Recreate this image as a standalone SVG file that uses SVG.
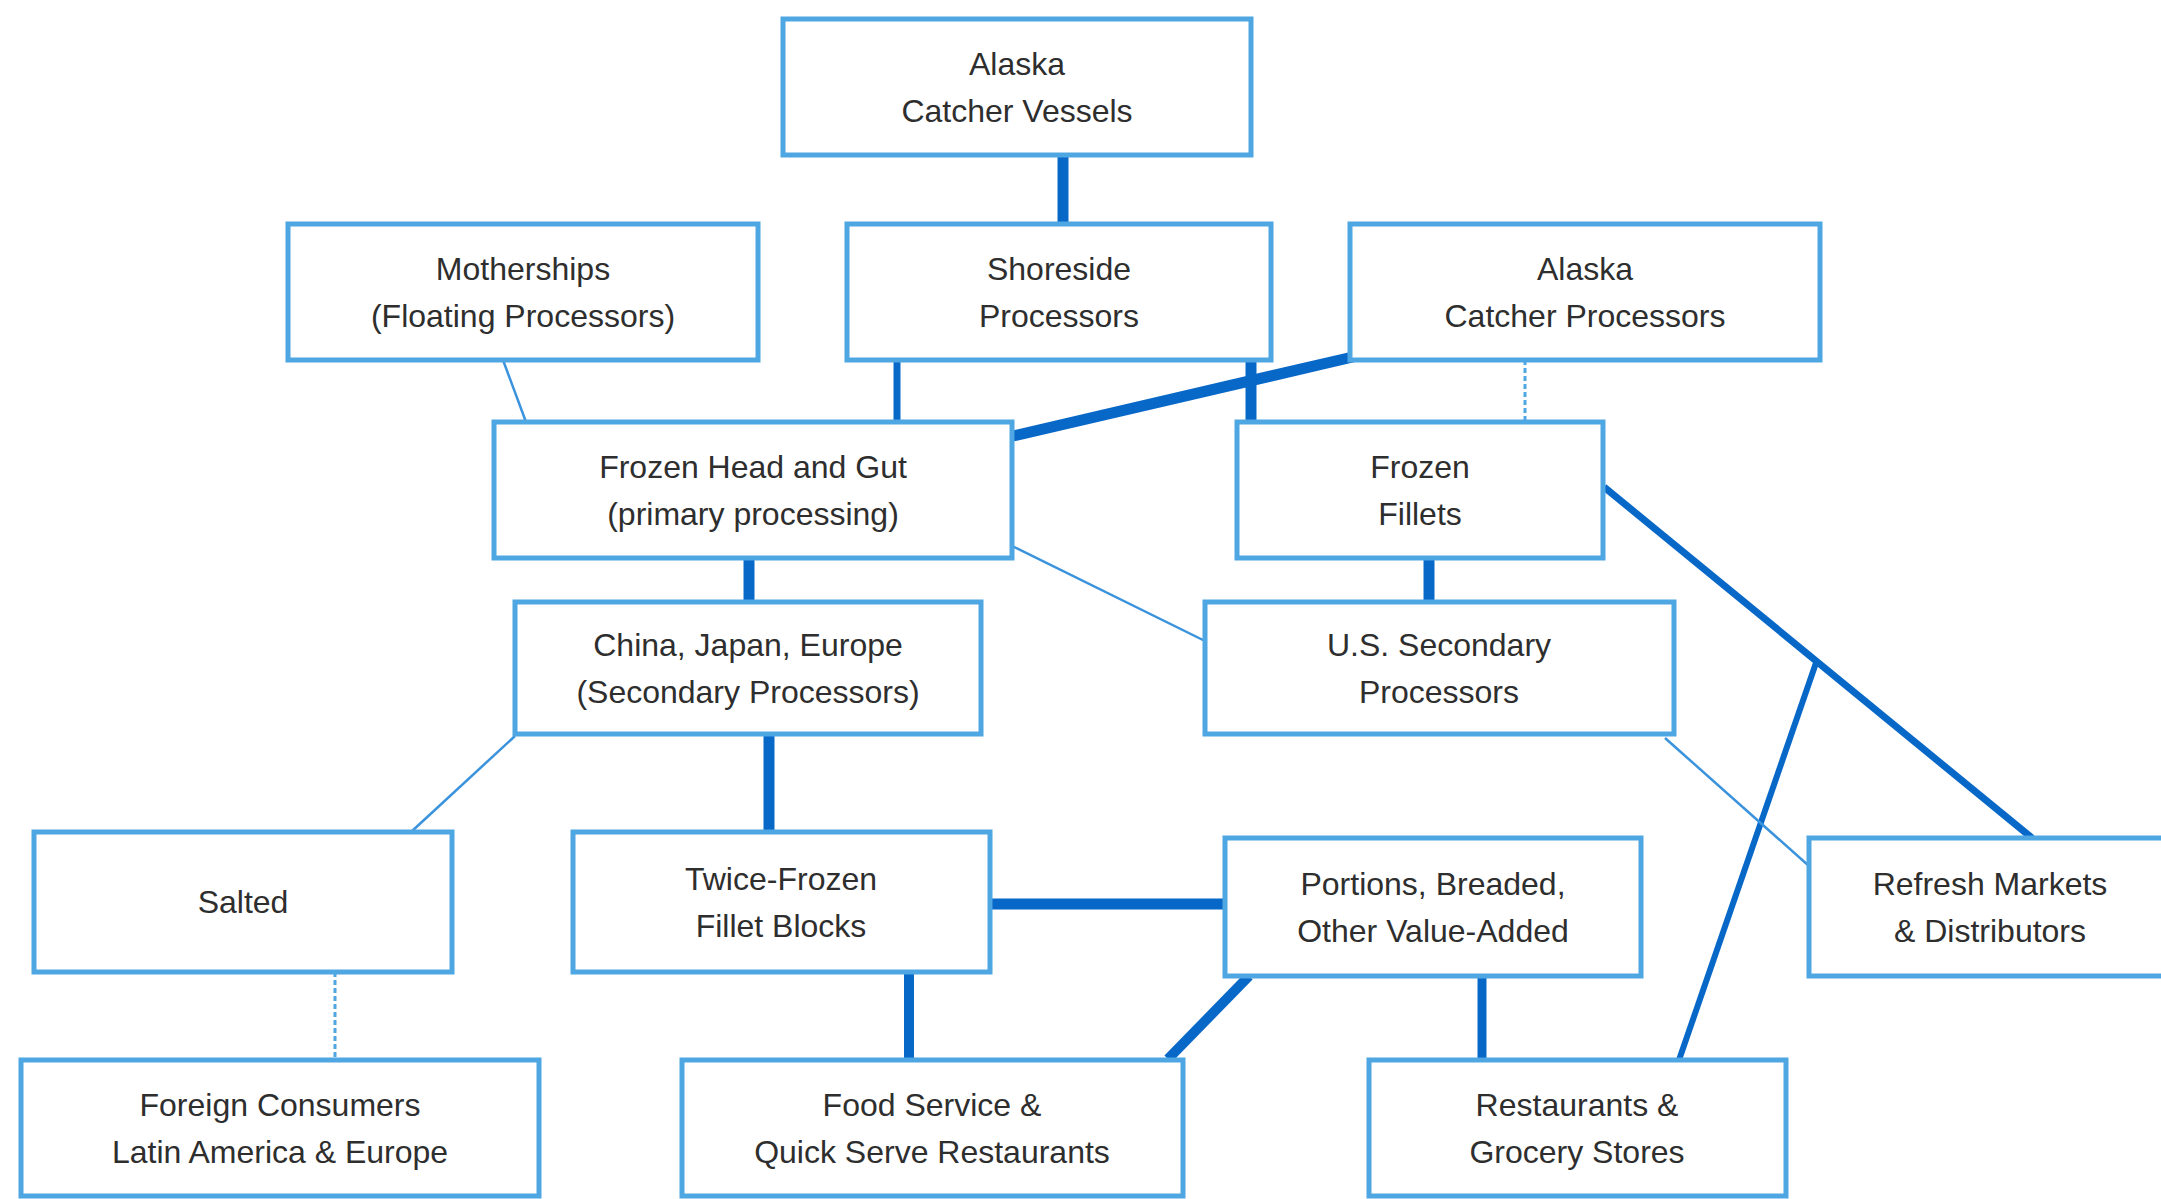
<svg xmlns="http://www.w3.org/2000/svg" width="2161" height="1199" viewBox="0 0 2161 1199">
<style>
.box{fill:#ffffff;stroke:#4ea6e2;stroke-width:5}
.t{font-family:"Liberation Sans",Arial,sans-serif;font-size:32px;fill:#2e2e2e;text-anchor:middle}
.c{stroke:#0868c8;fill:none;stroke-linecap:butt}
.thick{stroke-width:11}
.med{stroke-width:7}
.thin{stroke:#3a93dc;stroke-width:2.5}
.dash{stroke:#4ea6e2;stroke-width:3;stroke-dasharray:5 3}
</style>
<rect width="2161" height="1199" fill="#ffffff"/>
<g id="connectors">
<line class="c thick" x1="1063" y1="155" x2="1063" y2="224"/>
<line class="c thin" x1="503" y1="360" x2="526" y2="422"/>
<line class="c med" x1="897" y1="360" x2="897" y2="422"/>
<line class="c thick" x1="1357" y1="356" x2="1013" y2="436"/>
<line class="c thick" x1="1251" y1="360" x2="1251" y2="422"/>
<line class="c dash" x1="1525" y1="360" x2="1525" y2="422"/>
<line class="c thick" x1="749" y1="558" x2="749" y2="602"/>
<line class="c thin" x1="1012" y1="546" x2="1205" y2="641"/>
<line class="c thick" x1="1429" y1="558" x2="1429" y2="602"/>
<line class="c med" x1="1604" y1="487" x2="2032" y2="838"/>
<line class="c" stroke-width="6" x1="1679" y1="1060" x2="1817" y2="660"/>
<line class="c thin" x1="1665" y1="738" x2="1809" y2="866"/>
<line class="c thin" x1="515" y1="736" x2="411" y2="832"/>
<line class="c thick" x1="769" y1="734" x2="769" y2="832"/>
<line class="c dash" x1="335" y1="972" x2="335" y2="1060"/>
<line class="c thick" x1="990" y1="904" x2="1225" y2="904"/>
<line class="c" stroke-width="10" x1="909" y1="972" x2="909" y2="1060"/>
<line class="c" stroke-width="10" x1="1249" y1="976" x2="1168" y2="1059"/>
<line class="c" stroke-width="9" x1="1482" y1="976" x2="1482" y2="1058"/>
</g>
<g id="alaska-catcher-vessels"><rect class="box" x="783" y="19" width="468" height="136"/><text class="t" x="1017" y="75">Alaska</text><text class="t" x="1017" y="122">Catcher Vessels</text></g>
<g id="motherships"><rect class="box" x="288" y="224" width="470" height="136"/><text class="t" x="523" y="280">Motherships</text><text class="t" x="523" y="327">(Floating Processors)</text></g>
<g id="shoreside"><rect class="box" x="847" y="224" width="424" height="136"/><text class="t" x="1059" y="280">Shoreside</text><text class="t" x="1059" y="327">Processors</text></g>
<g id="alaska-catcher-processors"><rect class="box" x="1350" y="224" width="470" height="136"/><text class="t" x="1585" y="280">Alaska</text><text class="t" x="1585" y="327">Catcher Processors</text></g>
<g id="frozen-head-gut"><rect class="box" x="494" y="422" width="518" height="136"/><text class="t" x="753" y="478">Frozen Head and Gut</text><text class="t" x="753" y="525">(primary processing)</text></g>
<g id="frozen-fillets"><rect class="box" x="1237" y="422" width="366" height="136"/><text class="t" x="1420" y="478">Frozen</text><text class="t" x="1420" y="525">Fillets</text></g>
<g id="china-japan-europe"><rect class="box" x="515" y="602" width="466" height="132"/><text class="t" x="748" y="656">China, Japan, Europe</text><text class="t" x="748" y="703">(Secondary Processors)</text></g>
<g id="us-secondary"><rect class="box" x="1205" y="602" width="469" height="132"/><text class="t" x="1439" y="656">U.S. Secondary</text><text class="t" x="1439" y="703">Processors</text></g>
<g id="salted"><rect class="box" x="34" y="832" width="418" height="140"/><text class="t" x="243" y="913">Salted</text></g>
<g id="twice-frozen"><rect class="box" x="573" y="832" width="417" height="140"/><text class="t" x="781" y="890">Twice-Frozen</text><text class="t" x="781" y="937">Fillet Blocks</text></g>
<g id="portions"><rect class="box" x="1225" y="838" width="416" height="138"/><text class="t" x="1433" y="895">Portions, Breaded,</text><text class="t" x="1433" y="942">Other Value-Added</text></g>
<g id="refresh"><rect class="box" x="1809" y="838" width="362" height="138"/><text class="t" x="1990" y="895">Refresh Markets</text><text class="t" x="1990" y="942">&amp; Distributors</text></g>
<g id="foreign-consumers"><rect class="box" x="21" y="1060" width="518" height="136"/><text class="t" x="280" y="1116">Foreign Consumers</text><text class="t" x="280" y="1163">Latin America &amp; Europe</text></g>
<g id="food-service"><rect class="box" x="682" y="1060" width="501" height="136"/><text class="t" x="932" y="1116">Food Service &amp;</text><text class="t" x="932" y="1163">Quick Serve Restaurants</text></g>
<g id="restaurants"><rect class="box" x="1369" y="1060" width="417" height="136"/><text class="t" x="1577" y="1116">Restaurants &amp;</text><text class="t" x="1577" y="1163">Grocery Stores</text></g>
</svg>
